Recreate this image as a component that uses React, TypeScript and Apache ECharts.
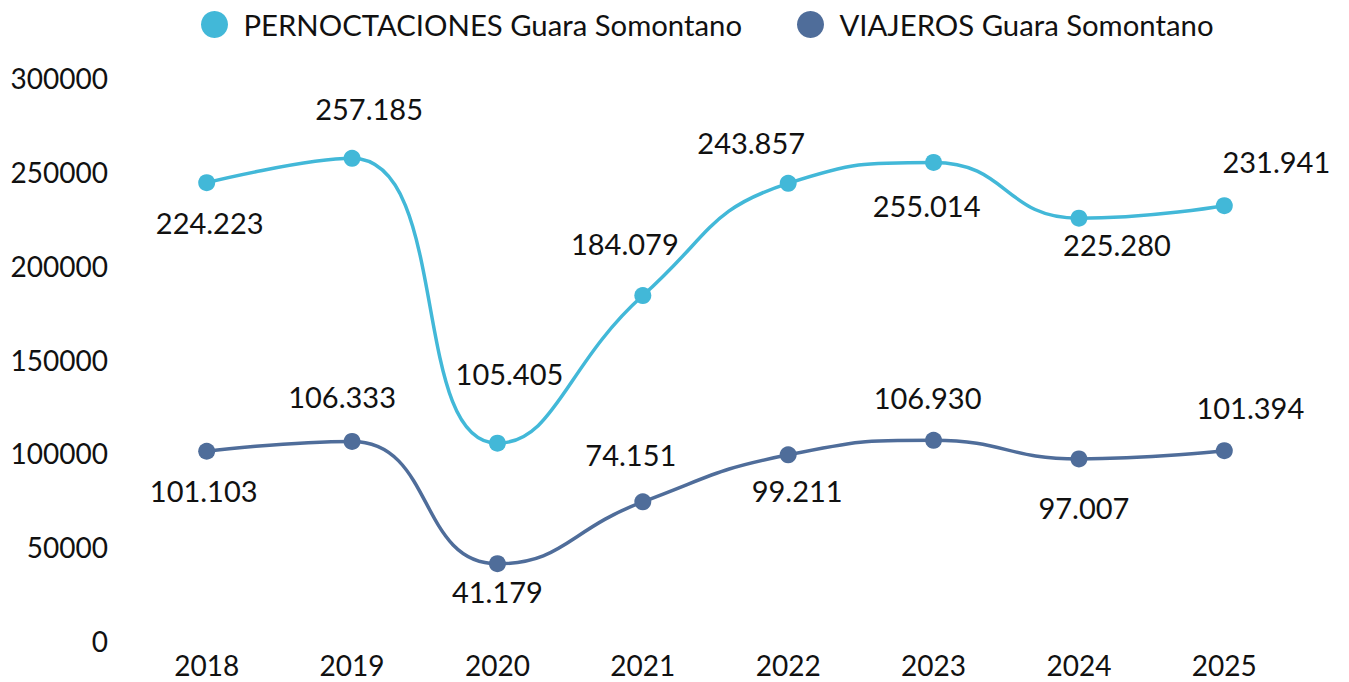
import React, { useEffect, useRef } from "react";
import * as echarts from "echarts";

const years = ["2018", "2019", "2020", "2021", "2022", "2023", "2024", "2025"];
const pernoctaciones = [244223, 257185, 105405, 184079, 243857, 255014, 225280, 231941];
const pernoctacionesLabels = ["224.223", "257.185", "105.405", "184.079", "243.857", "255.014", "225.280", "231.941"];
const viajeros = [101103, 106333, 41179, 74151, 99211, 106930, 97007, 101394];
const viajerosLabels = ["101.103", "106.333", "41.179", "74.151", "99.211", "106.930", "97.007", "101.394"];
const yTicks = [0, 50000, 100000, 150000, 200000, 250000, 300000];

// label offsets (dx, dy) from each point, in pixels
const pernoctOffsets = [[3, 40], [17, -50], [12, -70], [-18, -52], [-37, -41], [-7, 43], [38, 26], [52, -44]];
const viajerosOffsets = [[-3, 39], [-10, -45], [0, 28], [-12, -47], [9, 36], [-6, -43], [5, 49], [26, -43]];

const FONT = "Lato, 'Noto Sans', sans-serif";
const P_NAME = "PERNOCTACIONES Guara Somontano";
const V_NAME = "VIAJEROS Guara Somontano";

function buildData(values: number[], labels: string[], offs: number[][]) {
  return values.map((v, i) => ({
    value: v,
    label: { position: "inside", offset: offs[i], formatter: labels[i] },
  }));
}

export default function App() {
  const ref = useRef<HTMLDivElement>(null);
  useEffect(() => {
    if (!ref.current) return;
    const chart = echarts.init(ref.current, undefined, { renderer: "svg" });
    const labelStyle = {
      show: true,
      fontFamily: FONT,
      fontSize: 29,
      color: "#111",
    };
    const legendBase = {
      top: 5,
      itemWidth: 48,
      itemHeight: 27,
      icon: "circle",
      textStyle: { fontFamily: FONT, fontSize: 29.3, color: "#111" },
    };
    chart.setOption({
      animation: false,
      textStyle: { fontFamily: FONT },
      legend: [
        { ...legendBase, left: 196, data: [P_NAME] },
        { ...legendBase, left: 792, data: [V_NAME] },
      ],
      grid: { left: 134, right: 52, top: 78, bottom: 41 },
      xAxis: {
        type: "category",
        data: years,
        axisLine: { show: false },
        axisTick: { show: false },
        axisLabel: { fontFamily: FONT, fontSize: 28, color: "#111", margin: 10 },
      },
      yAxis: {
        type: "value",
        min: yTicks[0],
        max: yTicks[yTicks.length - 1],
        interval: yTicks[1] - yTicks[0],
        splitLine: { show: false },
        axisLine: { show: false },
        axisTick: { show: false },
        axisLabel: {
          fontFamily: FONT,
          fontSize: 28,
          color: "#111",
          margin: 26,
          formatter: (v: number) => String(v),
        },
      },
      series: [
        {
          name: P_NAME,
          type: "line",
          smooth: true,
          symbol: "circle",
          symbolSize: 17,
          color: "#42b8d8",
          lineStyle: { width: 3.5, color: "#42b8d8" },
          itemStyle: { color: "#42b8d8" },
          label: labelStyle,
          data: buildData(pernoctaciones, pernoctacionesLabels, pernoctOffsets),
        },
        {
          name: V_NAME,
          type: "line",
          smooth: true,
          symbol: "circle",
          symbolSize: 17,
          color: "#4f6d9a",
          lineStyle: { width: 3.5, color: "#4f6d9a" },
          itemStyle: { color: "#4f6d9a" },
          label: labelStyle,
          data: buildData(viajeros, viajerosLabels, viajerosOffsets),
        },
      ],
    });
    return () => chart.dispose();
  }, []);
  return (
    <div
      ref={ref}
      style={{ position: "absolute", left: 0, top: 0, width: 1349, height: 682 }}
    />
  );
}
